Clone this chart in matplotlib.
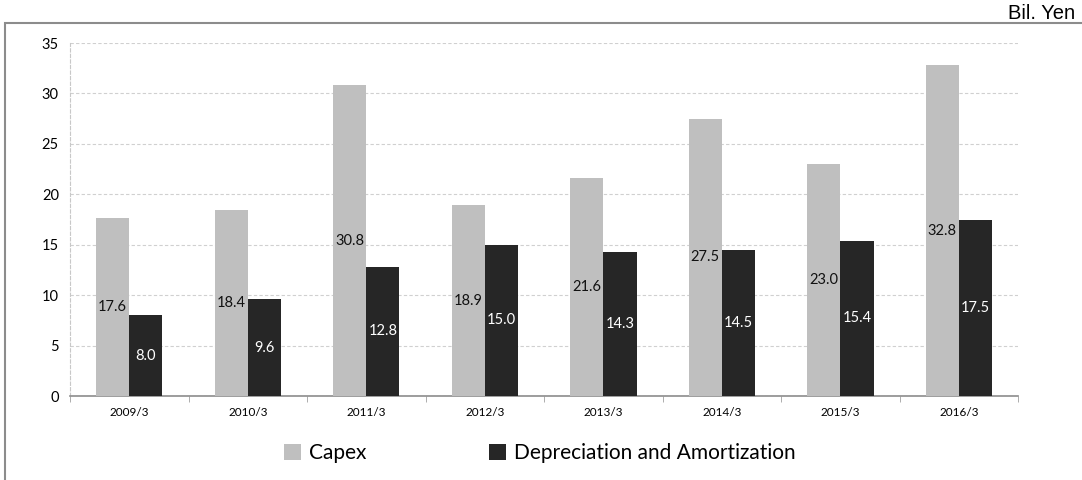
import matplotlib.pyplot as plt
import numpy as np
from matplotlib.patches import Rectangle

years = ['2009/3', '2010/3', '2011/3', '2012/3', '2013/3', '2014/3', '2015/3', '2016/3']
capex = [17.6, 18.4, 30.8, 18.9, 21.6, 27.5, 23.0, 32.8]
depreciation = [8.0, 9.6, 12.8, 15.0, 14.3, 14.5, 15.4, 17.5]

plt.rcParams['font.family'] = ['Lato', 'DejaVu Sans']

fig = plt.figure(figsize=(10.82, 4.8), dpi=100)
ax = fig.add_axes([0.0647, 0.175, 0.8763, 0.7354])

# outer frame around the whole chart area
fig.patches.append(Rectangle((5 / 1082, -0.1), 1.2, 1.1 - 23 / 480,
                             transform=fig.transFigure, fill=False,
                             edgecolor='#8c8c8c', linewidth=1.5))

x = np.arange(len(years))
w = 0.28
b1 = ax.bar(x - w / 2, capex, w, color='#bfbfbf', zorder=3)
b2 = ax.bar(x + w / 2, depreciation, w, color='#262626', zorder=3)

for rect, v in zip(b1, capex):
    ax.text(rect.get_x() + rect.get_width() / 2, v / 2, f'{v:.1f}',
            ha='center', va='center', fontsize=10.5, color='#111111', zorder=4)
for rect, v in zip(b2, depreciation):
    ax.text(rect.get_x() + rect.get_width() / 2, v / 2, f'{v:.1f}',
            ha='center', va='center', fontsize=10.5, color='white', zorder=4)

ax.set_xlim(-0.5, len(years) - 0.5)
ax.set_ylim(0, 35)
ax.set_yticks(range(0, 36, 5))
ax.set_xticks(x)
ax.set_xticklabels(years, fontsize=8.5)
ax.tick_params(axis='x', length=0, pad=8)
ax.tick_params(axis='y', length=0, labelsize=10.5, pad=8)

# category separators on the x axis
ax.set_xticks(np.arange(-0.5, len(years), 1), minor=True)
ax.tick_params(axis='x', which='minor', length=4, color='#a0a0a0')

ax.grid(axis='y', linestyle=(0, (3, 2)), color='#d0d0d0', linewidth=0.8, zorder=0)
for s in ['top', 'right']:
    ax.spines[s].set_visible(False)
ax.spines['left'].set_linestyle((0, (3, 2)))
ax.spines['left'].set_color('#c8c8c8')
ax.spines['left'].set_linewidth(0.8)
ax.spines['bottom'].set_color('#8c8c8c')
ax.spines['bottom'].set_linewidth(1.2)

fig.text(0.994, 0.992, 'Bil. Yen', ha='right', va='top', fontsize=14.5,
         family='Liberation Sans')

fig.legend([b1, b2], ['Capex', 'Depreciation and Amortization'],
           loc='center', bbox_to_anchor=(0.499, 0.056), ncol=2, frameon=False,
           fontsize=15, handlelength=0.8, handleheight=0.8, handletextpad=0.4,
           columnspacing=5.9)

fig.savefig('out.png', dpi=100)
